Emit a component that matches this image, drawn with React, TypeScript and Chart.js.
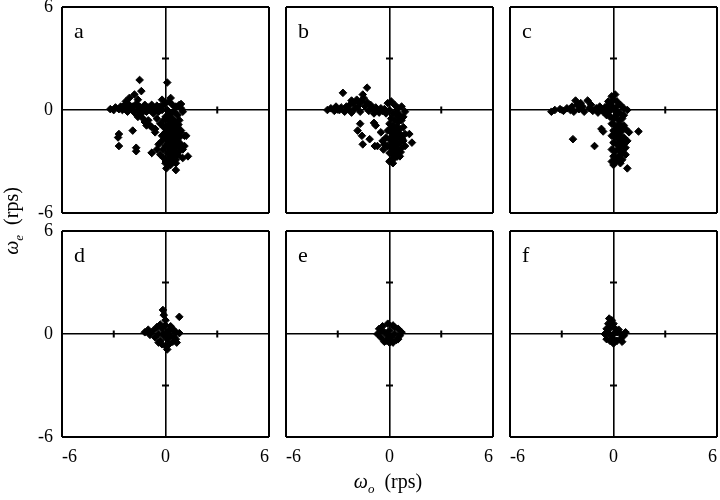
import React, { useEffect, useRef } from "react";
import { Chart, registerables } from "chart.js";

Chart.register(...registerables);

const panelLetters = ["a", "b", "c", "d", "e", "f"];
const axisTicks = [-6, 0, 6];
const minorMarks = [-3, 3];
const xTitle = "(rps)";
const yTitle = "(rps)";

const panelA: [number, number][] = [
  [-3.2, 0.05], [-3.0, 0.0], [-2.9, 0.15], [-2.7, 0.05], [-2.6, 0.2], [-2.5, 0.0], [-2.4, 0.25], [-2.3, 0.1],
  [-2.2, -0.1], [-2.1, 0.3], [-2.0, 0.1], [-1.9, 0.2], [-1.8, -0.15], [-1.7, 0.35], [-1.6, 0.05], [-1.5, 0.2],
  [-1.4, -0.2], [-1.3, 0.1], [-1.2, 0.3], [-1.1, -0.1], [-1.0, 0.15], [-0.9, 0.0], [-0.8, 0.3], [-0.7, -0.2],
  [-0.6, 0.1], [-0.5, 0.25], [-0.4, -0.1], [-0.3, 0.2], [-0.2, 0.0], [-0.1, 0.3],
  [-1.6, -0.4], [-1.3, -0.5], [-1.2, -0.7], [-1.0, -0.6], [-0.9, -0.9], [-0.8, -1.0], [-0.6, -1.3], [-0.5, -0.5],
  [-0.3, -0.8], [-0.2, -1.5], [-0.4, -2.0], [-0.5, -2.3], [-0.8, -2.5], [-0.3, -2.6],
  [-1.5, 1.75], [-1.4, 1.1], [-1.8, 0.9], [-2.1, 0.7], [-2.3, 0.5], [-1.6, 0.6], [0.1, 1.6], [-0.2, 0.6], [0.3, 0.7],
  [-2.7, -1.4], [-2.75, -1.6], [-2.7, -2.1], [-1.9, -1.2], [-1.7, -2.2], [-1.7, -2.4], [-0.8, -2.5], [-1.1, -0.9], [-0.6, -1.1],
  [0.0, 0.4], [0.2, 0.5], [0.4, 0.3], [0.6, 0.2], [0.8, 0.3], [0.9, 0.1], [1.0, -0.1], [0.1, 0.0], [0.3, -0.2],
  [0.5, -0.1], [0.7, -0.3], [0.0, -0.4], [0.2, -0.6], [0.4, -0.5], [0.6, -0.7], [0.8, -0.6], [0.1, -0.9],
  [0.3, -1.0], [0.5, -1.1], [0.7, -1.0], [0.9, -1.2], [0.0, -1.3], [0.2, -1.4], [0.4, -1.5], [0.6, -1.4],
  [0.8, -1.6], [1.1, -1.5], [0.1, -1.7], [0.3, -1.8], [0.5, -1.9], [0.7, -1.8], [0.9, -2.0], [0.0, -2.1],
  [0.2, -2.2], [0.4, -2.3], [0.6, -2.2], [0.8, -2.4], [1.0, -2.3], [0.1, -2.5], [0.3, -2.6], [0.5, -2.7],
  [0.7, -2.6], [-0.1, -2.8], [0.2, -2.9], [0.4, -3.0], [0.6, -2.9], [0.0, -3.1], [0.3, -3.2], [0.05, -3.4],
  [0.6, -3.1], [0.6, -3.5], [1.3, -2.7], [1.2, -1.5], [0.9, 0.35], [1.0, -2.8], [1.1, -2.1], [0.35, -0.8],
  [0.15, -1.15], [0.55, -1.6], [0.25, -2.0], [0.45, -2.45], [0.65, -2.0], [-0.1, -1.0], [-0.2, -1.8],
  [-0.15, -2.3], [0.85, -1.3],
  [0.15, -0.3], [0.45, -0.75], [0.75, -0.85], [0.25, -1.25], [0.65, -1.25], [0.35, -1.6], [0.75, -1.45],
  [0.15, -1.95], [0.55, -2.15], [0.35, -2.4], [0.85, -2.2], [0.25, -2.75], [0.55, -2.5], [0.15, -3.0],
  [-0.05, -1.55], [-0.1, -0.6],
];

const panelB: [number, number][] = [
  [-3.6, 0.0], [-3.4, 0.1], [-3.2, -0.05], [-3.1, 0.2], [-2.9, 0.0], [-2.8, 0.15], [-2.6, -0.1], [-2.5, 0.2],
  [-2.4, 0.05], [-2.3, 0.3], [-2.2, -0.15], [-2.1, 0.4], [-2.0, 0.1], [-1.9, 0.6], [-1.8, 0.25], [-1.7, -0.1],
  [-1.6, 0.5], [-1.5, 0.7], [-1.4, 0.2], [-1.3, 0.45], [-1.2, -0.05], [-1.1, 0.3], [-1.0, 0.1], [-0.9, -0.2],
  [-0.8, 0.15], [-0.7, 0.0], [-0.6, -0.15], [-0.5, 0.1], [-0.4, -0.05], [-0.3, 0.05], [-0.2, -0.2],
  [-1.55, 0.9], [-1.75, 0.45], [-2.2, 0.55],
  [-2.7, 1.0], [-1.3, 1.3],
  [-0.9, -0.75], [-0.8, -0.9], [-1.85, -1.2], [-1.6, -1.5], [-1.15, -1.7], [-1.7, -0.8], [-1.55, -2.0],
  [-0.85, -2.1], [-0.7, -2.1], [1.15, -1.4], [1.3, -1.9], [-0.5, -1.3],
  [-0.1, 0.4], [0.1, 0.5], [0.3, 0.3], [0.5, 0.1], [0.7, 0.2], [0.9, -0.1], [0.0, 0.0], [0.2, -0.2],
  [0.4, -0.1], [0.6, -0.3], [0.8, -0.4], [0.1, -0.5], [0.3, -0.6], [0.5, -0.7], [0.7, -0.6], [0.0, -0.8],
  [0.2, -0.9], [0.4, -1.0], [0.6, -1.1], [0.8, -1.0], [-0.1, -1.2], [0.1, -1.3], [0.3, -1.4], [0.5, -1.3],
  [0.7, -1.5], [0.9, -1.4], [-0.2, -1.6], [0.0, -1.7], [0.2, -1.8], [0.4, -1.7], [0.6, -1.9], [0.8, -1.8],
  [-0.3, -2.0], [-0.1, -2.1], [0.1, -2.2], [0.3, -2.1], [0.5, -2.3], [0.7, -2.2], [0.9, -2.1], [0.0, -2.5],
  [0.2, -2.6], [0.4, -2.5], [0.6, -2.7], [0.1, -2.9], [0.3, -2.8], [0.0, -3.0], [-0.4, -1.8], [-0.35, -2.3],
  [0.35, -2.35], [0.15, -1.55], [0.45, -0.35],
  [0.25, -1.05], [0.55, -1.5], [0.15, -1.9], [0.45, -2.0], [0.65, -2.45], [0.25, -2.4], [0.45, -2.7],
  [0.2, -3.1], [0.35, -1.2], [0.75, -1.7],
];

const panelC: [number, number][] = [
  [-3.6, -0.1], [-3.4, 0.0], [-3.1, 0.05], [-2.9, -0.05], [-2.7, 0.1], [-2.5, 0.0], [-2.4, 0.2], [-2.2, 0.55],
  [-2.1, 0.3], [-2.0, 0.05], [-1.8, 0.2], [-1.7, -0.1], [-1.5, 0.55], [-1.4, 0.1], [-1.3, 0.3], [-1.2, -0.05],
  [-1.0, 0.1], [-0.9, -0.15], [-0.8, 0.2], [-0.7, 0.0], [-0.6, -0.1], [-0.5, 0.15], [-2.3, -0.1], [-1.9, 0.4],
  [-2.35, -1.7], [-1.1, -2.1], [-0.7, -1.1], [-0.6, -1.25], [1.45, -1.25],
  [-0.1, 0.8], [0.1, 0.9], [0.0, 0.6], [-0.3, 0.5], [0.2, 0.5], [0.4, 0.3], [-0.4, 0.2], [-0.2, 0.3],
  [0.6, 0.1], [0.8, 0.0], [-0.5, 0.0], [-0.3, -0.1], [0.0, 0.1], [0.2, -0.1], [0.4, -0.2], [0.6, -0.3],
  [-0.4, -0.3], [-0.2, -0.4], [0.0, -0.5], [0.3, -0.6], [0.5, -0.5], [-0.1, -0.8], [0.1, -0.9], [0.3, -1.0],
  [0.0, -1.2], [0.2, -1.3], [0.5, -1.2], [0.7, -1.1], [0.9, -1.3], [-0.1, -1.5], [0.1, -1.6], [0.3, -1.7],
  [0.6, -1.6], [0.8, -1.8], [0.0, -1.9], [0.2, -2.0], [0.4, -2.1], [0.7, -2.2], [-0.1, -2.3], [0.1, -2.4],
  [0.5, -2.5], [0.7, -2.6], [0.0, -2.7], [0.2, -2.8], [0.5, -2.9], [-0.1, -3.0], [0.0, -3.2], [0.4, -3.1],
  [0.8, -3.4], [0.6, -0.9],
  [0.15, -0.3], [0.35, -0.8], [0.15, -1.1], [0.35, -1.45], [0.45, -1.85], [0.3, -2.3], [0.35, -2.65],
  [0.15, -3.0], [0.6, -2.0], [-0.15, 0.0], [0.2, 0.2],
];

const panelD: [number, number][] = [
  [0.8, 1.0], [-0.15, 1.4], [-0.1, 1.1], [0.0, 0.8], [-1.2, 0.1], [-1.0, 0.25], [-0.9, -0.05], [-0.7, 0.2],
  [-0.6, -0.2], [-0.5, 0.4], [-0.4, 0.0], [-0.3, -0.4], [-0.2, 0.3], [-0.1, -0.1], [0.0, 0.5], [0.1, -0.3],
  [0.2, 0.2], [0.3, -0.1], [0.4, 0.3], [0.5, -0.2], [0.6, 0.1], [0.8, 0.05], [0.6, -0.3], [0.42, -0.45],
  [0.2, -0.6], [0.0, -0.7], [-0.2, -0.6], [-0.4, -0.5], [0.1, -0.9], [-0.1, 0.0], [0.1, 0.1], [0.3, 0.45],
  [-0.3, 0.55], [0.5, 0.2], [0.65, -0.5],
];

const panelE: [number, number][] = [
  [-0.7, 0.0], [-0.6, 0.3], [-0.5, -0.2], [-0.4, 0.45], [-0.3, 0.1], [-0.2, -0.4], [-0.1, 0.6], [0.0, 0.2],
  [0.1, -0.2], [0.2, 0.5], [0.3, 0.0], [0.4, -0.35], [0.5, 0.3], [0.6, -0.1], [0.7, 0.1], [0.0, -0.5],
  [-0.3, -0.45], [0.3, 0.4], [-0.5, 0.2], [0.2, -0.5], [0.5, -0.3], [-0.1, -0.1],
];

const panelF: [number, number][] = [
  [-0.25, 0.9], [-0.1, 0.8], [-0.3, 0.6], [0.0, 0.6], [-0.4, 0.3], [-0.2, 0.35], [0.1, 0.3], [-0.5, 0.0],
  [-0.3, 0.05], [0.0, 0.0], [0.2, 0.1], [0.4, 0.0], [0.6, -0.1], [0.7, 0.1], [-0.4, -0.3], [-0.2, -0.4],
  [0.0, -0.3], [0.2, -0.4], [0.4, -0.3], [0.5, -0.45], [0.0, -0.55], [0.3, 0.25], [-0.1, -0.1],
];

const panels = [panelA, panelB, panelC, panelD, panelE, panelF];

// layout of the plot areas (pixels)
const colLeft = [62, 286, 510];
const rowTop = [7, 231];
const plotW = 207;
const plotH = 206;

const FONT = "'Liberation Serif', 'Times New Roman', serif";

function Panel({ idx }: { idx: number }) {
  const ref = useRef<HTMLCanvasElement>(null);
  const col = idx % 3;
  const row = Math.floor(idx / 3);
  const L = col === 0 ? 60 : 14;
  const B = row === 1 ? 36 : 24;
  const T = 24;
  const R = 14;
  const cw = plotW + L + R;
  const ch = plotH + T + B;

  useEffect(() => {
    if (!ref.current) return;
    const data = panels[idx];
    const gridLW = (c: any) => (c.tick && c.tick.value === 0 ? 1.6 : 2);
    const chart = new Chart(ref.current, {
      type: "scatter",
      data: {
        datasets: [
          {
            data: data.map(([x, y]) => ({ x, y })),
            pointStyle: "rectRot",
            pointRadius: 3.8,
            backgroundColor: "#000",
            borderColor: "#000",
            borderWidth: 1,
          },
          {
            data: minorMarks.map((v) => ({ x: v, y: 0 })),
            pointStyle: "line",
            rotation: 90,
            pointRadius: 3.5,
            borderColor: "#000",
            borderWidth: 2,
          },
          {
            data: minorMarks.map((v) => ({ x: 0, y: v })),
            pointStyle: "line",
            rotation: 0,
            pointRadius: 3.5,
            borderColor: "#000",
            borderWidth: 2,
          },
        ],
      } as any,
      options: {
        animation: false,
        responsive: false,
        maintainAspectRatio: false,
        events: [],
        layout: { padding: { left: 0, top: T, right: R, bottom: 0 } },
        plugins: { legend: { display: false }, tooltip: { enabled: false } },
        scales: {
          x: {
            type: "linear",
            min: -6,
            max: 6,
            afterBuildTicks: (s: any) => {
              s.ticks = axisTicks.map((v) => ({ value: v }));
            },
            afterFit: (s: any) => {
              s.height = B;
            },
            ticks: {
              display: row === 1,
              align: "inner",
              padding: 9,
              color: "#000",
              font: { family: FONT, size: 18 },
              maxRotation: 0,
              autoSkip: false,
            },
            grid: { color: "#000", lineWidth: gridLW, drawTicks: false },
            border: { display: false },
          },
          y: {
            type: "linear",
            min: -6,
            max: 6,
            afterBuildTicks: (s: any) => {
              s.ticks = axisTicks.map((v) => ({ value: v }));
            },
            afterFit: (s: any) => {
              s.width = L;
            },
            ticks: {
              display: col === 0,
              padding: 9,
              color: "#000",
              font: { family: FONT, size: 18 },
              autoSkip: false,
            },
            grid: { color: "#000", lineWidth: gridLW, drawTicks: false },
            border: { display: false },
          },
        },
      } as any,
    });
    return () => chart.destroy();
  }, [idx]);

  return (
    <>
      <canvas
        ref={ref}
        width={cw}
        height={ch}
        style={{
          position: "absolute",
          left: colLeft[col] - L,
          top: rowTop[row] - T,
          width: cw,
          height: ch,
        }}
      />
      <span
        style={{
          position: "absolute",
          left: colLeft[col] + 12,
          top: rowTop[row] + 13,
          fontSize: 22,
          lineHeight: "22px",
          fontFamily: FONT,
          color: "#000",
        }}
      >
        {panelLetters[idx]}
      </span>
    </>
  );
}

export default function App() {
  return (
    <div
      style={{
        position: "absolute",
        left: 0,
        top: 0,
        width: 720,
        height: 500,
        background: "#fff",
        fontFamily: FONT,
        color: "#000",
        overflow: "hidden",
      }}
    >
      {panels.map((_, i) => (
        <Panel key={i} idx={i} />
      ))}
      <div
        style={{
          position: "absolute",
          left: 15,
          top: 221,
          transform: "translate(-50%, -50%) rotate(-90deg)",
          whiteSpace: "nowrap",
          fontSize: 20,
          lineHeight: "24px",
        }}
      >
        <i>ω</i>
        <sub style={{ fontSize: 13, fontStyle: "italic" }}>e</sub>
        {"\u00a0\u00a0" + yTitle}
      </div>
      <div
        style={{
          position: "absolute",
          left: 388,
          top: 485,
          transform: "translate(-50%, -50%)",
          whiteSpace: "nowrap",
          fontSize: 20,
          lineHeight: "24px",
        }}
      >
        <i>ω</i>
        <sub style={{ fontSize: 13, fontStyle: "italic" }}>o</sub>
        {"\u00a0\u00a0" + xTitle}
      </div>
    </div>
  );
}
